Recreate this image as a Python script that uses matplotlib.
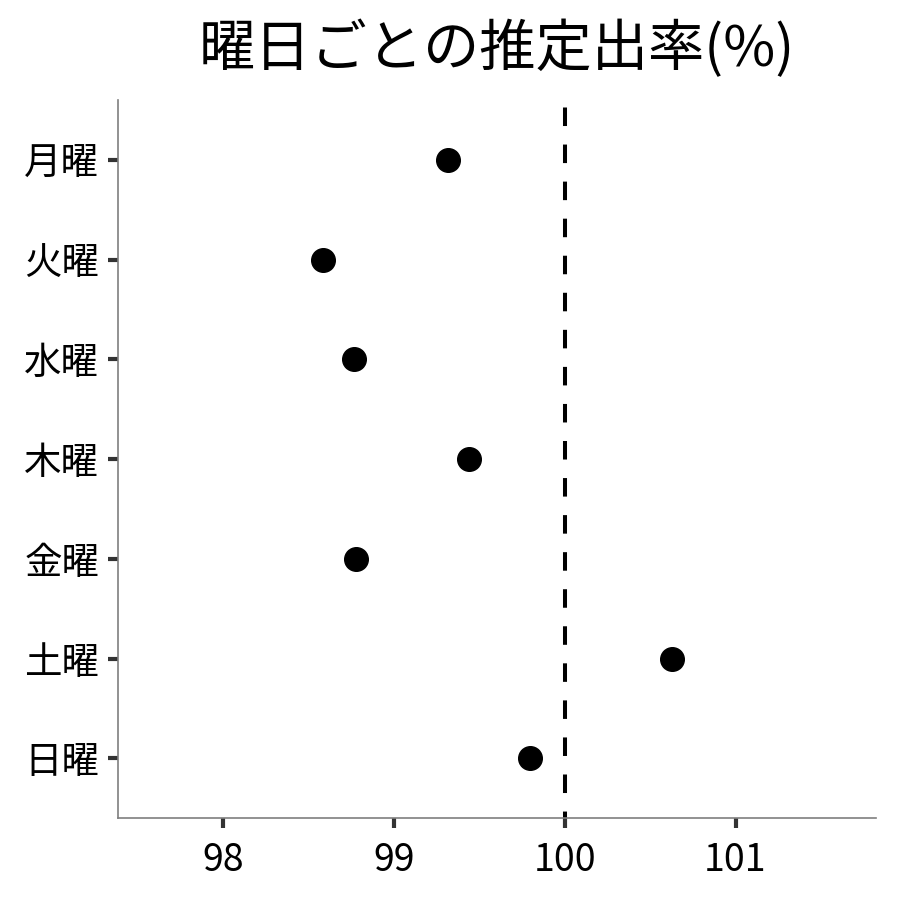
import matplotlib
matplotlib.use("Agg")
import matplotlib.pyplot as plt

plt.rcParams['font.family'] = ['Noto Sans CJK JP', 'DejaVu Sans']

# data
days = ["月曜", "火曜", "水曜", "木曜", "金曜", "土曜", "日曜"]
rates = [99.32, 98.585, 98.77, 99.44, 98.78, 100.63, 99.795]
xticks = [98, 99, 100, 101]

fig = plt.figure(figsize=(9, 9), dpi=100)
ax = fig.add_axes([0.131, 0.091, 0.842, 0.798])

ypos = list(range(1, len(days) + 1))
ax.axvline(100, color="black", lw=2.9, linestyle=(3, (4.6, 4.6)), zorder=1)
ax.plot(rates, ypos, "o", color="black", markersize=17, zorder=2)

ax.set_xlim(97.386, 101.82)
ax.set_ylim(7.6, 0.4)
ax.set_yticks(ypos)
ax.set_yticklabels(days)
ax.set_xticks(xticks)
ax.set_xticklabels([str(t) for t in xticks])

for side in ["top", "right"]:
    ax.spines[side].set_visible(False)
for side in ["left", "bottom"]:
    ax.spines[side].set_color("#7f7f7f")
    ax.spines[side].set_linewidth(1.2)

ax.tick_params(axis="both", length=7.5, width=3, color="#333333",
               labelsize=27, labelcolor="black")
ax.tick_params(axis="y", pad=6)
ax.tick_params(axis="x", pad=9)

ax.set_title("曜日ごとの推定出率(%)", fontsize=40.5, pad=24)

fig.savefig("out.png", dpi=100)
